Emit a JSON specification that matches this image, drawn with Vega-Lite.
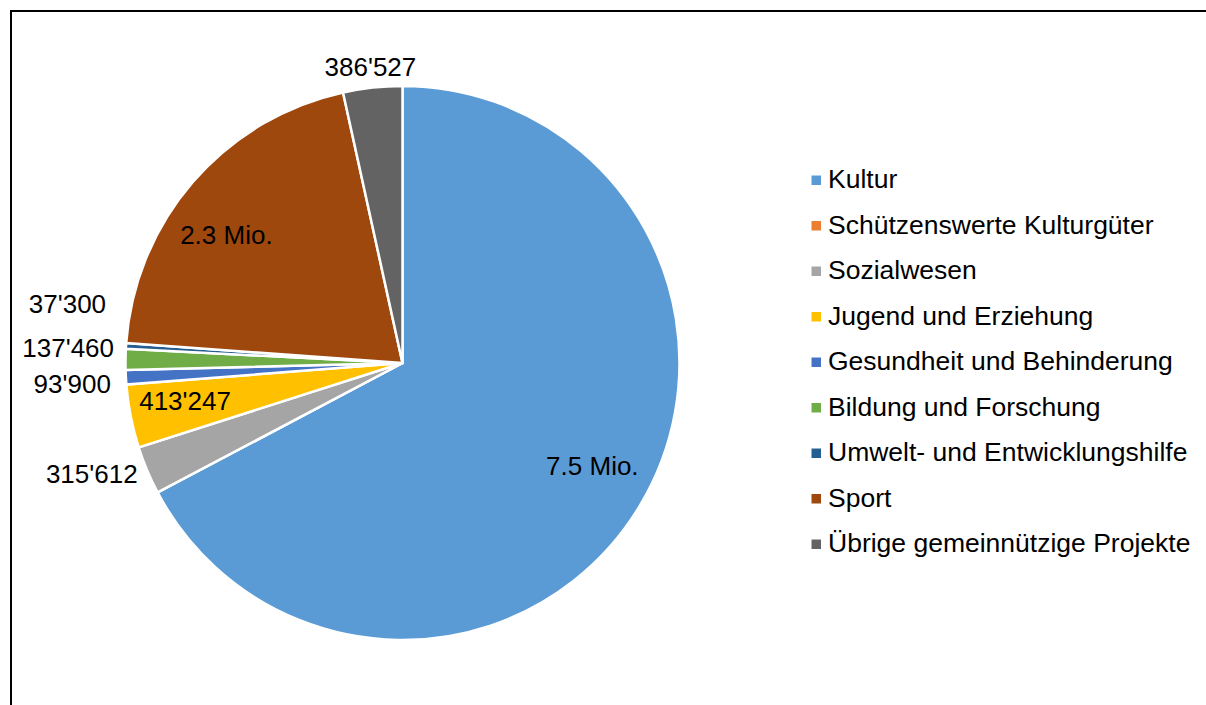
{
  "$schema": "https://vega.github.io/schema/vega-lite/v6.json",
  "background": "white",
  "padding": {"left": 10, "top": 10, "right": 0, "bottom": 0},
  "config": {"font": "Liberation Sans", "view": {"stroke": null}},
  "datasets": {
    "shares": [
      {"rank": 1, "category": "Kultur", "value": 7549000, "label": "7.5 Mio."},
      {"rank": 2, "category": "Schützenswerte Kulturgüter", "value": 0, "label": ""},
      {"rank": 3, "category": "Sozialwesen", "value": 315612, "label": "315'612"},
      {"rank": 4, "category": "Jugend und Erziehung", "value": 413247, "label": "413'247"},
      {"rank": 5, "category": "Gesundheit und Behinderung", "value": 93900, "label": "93'900"},
      {"rank": 6, "category": "Bildung und Forschung", "value": 137460, "label": "137'460"},
      {"rank": 7, "category": "Umwelt- und Entwicklungshilfe", "value": 37300, "label": "37'300"},
      {"rank": 8, "category": "Sport", "value": 2290000, "label": "2.3 Mio."},
      {"rank": 9, "category": "Übrige gemeinnützige Projekte", "value": 386527, "label": "386'527"}
    ]
  },
  "spacing": 0,
  "bounds": "flush",
  "hconcat": [
    {
      "width": 783,
      "height": 704,
      "data": {"name": "shares"},
      "view": {"stroke": "#000", "strokeWidth": 2, "strokeDash": [783, 1487, 704, 100]},
      "layer": [
        {
          "mark": {"type": "arc", "outerRadius": 277, "stroke": "#ffffff", "strokeWidth": 2.5},
          "encoding": {
            "theta": {"field": "value", "type": "quantitative", "stack": true},
            "order": {"field": "rank", "type": "quantitative"},
            "color": {
              "field": "category",
              "type": "nominal",
              "scale": {
                "domain": ["Kultur", "Schützenswerte Kulturgüter", "Sozialwesen", "Jugend und Erziehung", "Gesundheit und Behinderung", "Bildung und Forschung", "Umwelt- und Entwicklungshilfe", "Sport", "Übrige gemeinnützige Projekte"],
                "range": ["#5B9BD5", "#ED7D31", "#A5A5A5", "#FFC000", "#4472C4", "#70AD47", "#255E91", "#9E480E", "#636363"]
              },
              "legend": {
                "orient": "none",
                "legendX": 792,
                "legendY": 156,
                "title": null,
                "padding": 0,
                "symbolType": "square",
                "symbolSize": 90,
                "symbolStrokeWidth": 0,
                "symbolOpacity": 1,
                "labelFont": "Liberation Sans",
                "labelFontSize": 26.5,
                "labelColor": "#000000",
                "labelOffset": -1.5,
                "labelLimit": 600,
                "rowPadding": 18.5
              }
            }
          }
        },
        {
          "mark": {"type": "text", "radius": 217, "align": "center", "baseline": "middle", "dx": 4, "dy": -8.5, "fontSize": 26, "font": "Liberation Sans", "color": "#000000"},
          "encoding": {
            "theta": {"field": "value", "type": "quantitative", "stack": true},
            "order": {"field": "rank", "type": "quantitative"},
            "text": {"condition": {"test": "datum.category === 'Kultur'", "field": "label", "type": "nominal"}, "value": ""}
          }
        },
        {
          "mark": {"type": "text", "radius": 217, "align": "center", "baseline": "middle", "dx": -12, "dy": 15.5, "fontSize": 26, "font": "Liberation Sans", "color": "#000000"},
          "encoding": {
            "theta": {"field": "value", "type": "quantitative", "stack": true},
            "order": {"field": "rank", "type": "quantitative"},
            "text": {"condition": {"test": "datum.category === 'Sport'", "field": "label", "type": "nominal"}, "value": ""}
          }
        },
        {
          "mark": {"type": "text", "radius": 217, "align": "center", "baseline": "middle", "dx": -4.5, "dy": -3, "fontSize": 26, "font": "Liberation Sans", "color": "#000000"},
          "encoding": {
            "theta": {"field": "value", "type": "quantitative", "stack": true},
            "order": {"field": "rank", "type": "quantitative"},
            "text": {"condition": {"test": "datum.category === 'Jugend und Erziehung'", "field": "label", "type": "nominal"}, "value": ""}
          }
        },
        {
          "mark": {"type": "text", "radius": 297, "align": "center", "baseline": "middle", "fontSize": 26, "font": "Liberation Sans", "color": "#000000"},
          "encoding": {
            "theta": {"field": "value", "type": "quantitative", "stack": true},
            "order": {"field": "rank", "type": "quantitative"},
            "text": {"condition": {"test": "datum.category === 'Übrige gemeinnützige Projekte'", "field": "label", "type": "nominal"}, "value": ""}
          }
        },
        {
          "mark": {"type": "text", "radius": 290, "align": "right", "baseline": "middle", "dx": 2.5, "dy": 0, "fontSize": 26, "font": "Liberation Sans", "color": "#000000"},
          "encoding": {
            "theta": {"field": "value", "type": "quantitative", "stack": true},
            "order": {"field": "rank", "type": "quantitative"},
            "text": {"condition": {"test": "datum.category === 'Sozialwesen'", "field": "label", "type": "nominal"}, "value": ""}
          }
        },
        {
          "mark": {"type": "text", "radius": 290, "align": "right", "baseline": "middle", "dx": -2, "dy": 7, "fontSize": 26, "font": "Liberation Sans", "color": "#000000"},
          "encoding": {
            "theta": {"field": "value", "type": "quantitative", "stack": true},
            "order": {"field": "rank", "type": "quantitative"},
            "text": {"condition": {"test": "datum.category === 'Gesundheit und Behinderung'", "field": "label", "type": "nominal"}, "value": ""}
          }
        },
        {
          "mark": {"type": "text", "radius": 290, "align": "right", "baseline": "middle", "dx": 1.5, "dy": -10, "fontSize": 26, "font": "Liberation Sans", "color": "#000000"},
          "encoding": {
            "theta": {"field": "value", "type": "quantitative", "stack": true},
            "order": {"field": "rank", "type": "quantitative"},
            "text": {"condition": {"test": "datum.category === 'Bildung und Forschung'", "field": "label", "type": "nominal"}, "value": ""}
          }
        },
        {
          "mark": {"type": "text", "radius": 290, "align": "right", "baseline": "middle", "dx": -7, "dy": -40, "fontSize": 26, "font": "Liberation Sans", "color": "#000000"},
          "encoding": {
            "theta": {"field": "value", "type": "quantitative", "stack": true},
            "order": {"field": "rank", "type": "quantitative"},
            "text": {"condition": {"test": "datum.category === 'Umwelt- und Entwicklungshilfe'", "field": "label", "type": "nominal"}, "value": ""}
          }
        }
      ]
    },
    {
      "width": 413,
      "height": 704,
      "data": {"values": []},
      "view": {"stroke": "#000", "strokeWidth": 2, "strokeDash": [413, 3000]},
      "mark": "point",
      "encoding": {}
    }
  ]
}
